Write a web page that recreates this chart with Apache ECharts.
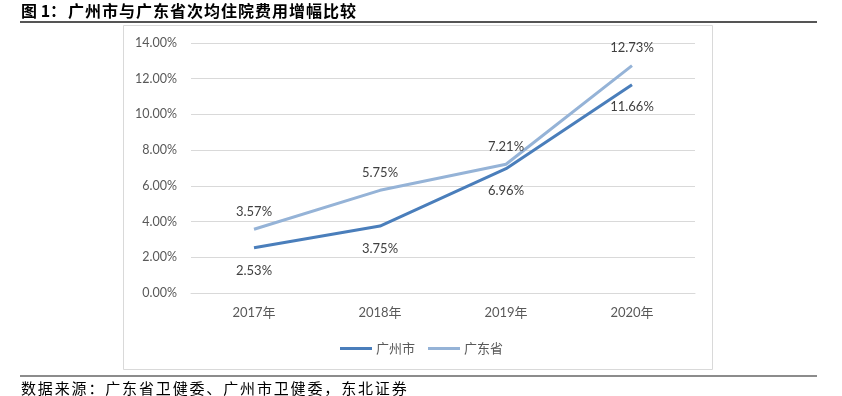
<!DOCTYPE html>
<html>
<head>
<meta charset="utf-8">
<script src="https://cdn.jsdelivr.net/npm/echarts@6/dist/echarts.min.js"></script>
<style>
html,body{margin:0;padding:0;background:#fff;}
#wrap{position:relative;width:842px;height:396px;}
#c{width:842px;height:396px;}
.t{position:absolute;white-space:nowrap;font-family:"Noto Sans CJK SC",sans-serif;color:#000;}
#title{left:21px;top:0px;font-size:16px;font-weight:bold;line-height:21px;letter-spacing:1px;}
#title .p{display:inline-block;width:47px;letter-spacing:0;}
#src{left:21px;top:378px;font-size:15px;line-height:20px;letter-spacing:1.85px;}
</style>
</head>
<body>
<div id="wrap">
<div id="c"></div>
<div class="t" id="title"></div>
<div class="t" id="src"></div>
</div>
<script>
var categories = ['2017年', '2018年', '2019年', '2020年'];
var guangzhou = [2.53, 3.75, 6.96, 11.66];
var guangdong = [3.57, 5.75, 7.21, 12.73];
var seriesNames = ['广州市', '广东省'];
var titlePrefix = '图 1：';
var titleText = '广州市与广东省次均住院费用增幅比较';
var sourceText = '数据来源：广东省卫健委、广州市卫健委，东北证券';

document.getElementById('title').innerHTML = '<span class="p"></span>';
document.querySelector('#title .p').textContent = titlePrefix;
document.getElementById('title').appendChild(document.createTextNode(titleText));
document.getElementById('src').textContent = sourceText;

var fontLatin = 'Lato, "Noto Sans CJK SC", sans-serif';
var fontCJK = '"Noto Sans CJK SC", sans-serif';

var chart = echarts.init(document.getElementById('c'), null, {renderer: 'canvas'});
chart.setOption({
  animation: false,
  backgroundColor: '#ffffff',
  graphic: [
    {type: 'rect', shape: {x: 123.5, y: 25.5, width: 589, height: 344}, style: {fill: 'none', stroke: '#d9d9d9', lineWidth: 1}, z: -1},
    {type: 'line', shape: {x1: 20, y1: 22, x2: 817, y2: 22}, style: {stroke: '#555555', lineWidth: 2}},
    {type: 'line', shape: {x1: 20, y1: 376, x2: 817, y2: 376}, style: {stroke: '#8c8c8c', lineWidth: 2}}
  ],
  grid: {left: 191, right: 147, top: 43, bottom: 103, containLabel: false},
  legend: {
    left: 335, top: 337,
    itemWidth: 32, itemHeight: 3, itemGap: 13,
    icon: 'rect',
    textStyle: {color: '#595959', fontSize: 13, fontFamily: fontCJK, padding: [0,0,0,-1]},
    data: seriesNames
  },
  xAxis: {
    type: 'category',
    data: categories,
    boundaryGap: true,
    axisLine: {show: true, lineStyle: {color: '#d9d9d9'}},
    axisTick: {show: false},
    axisLabel: {color: '#595959', fontSize: 13, fontFamily: fontLatin, margin: 13}
  },
  yAxis: {
    type: 'value',
    min: 0, max: 14, interval: 2,
    axisLine: {show: false},
    axisTick: {show: false},
    splitLine: {lineStyle: {color: '#d9d9d9'}},
    axisLabel: {color: '#595959', fontSize: 12.5, fontFamily: fontLatin, margin: 14,
      formatter: function (v) { return v.toFixed(2) + '%'; }}
  },
  series: [
    {
      name: seriesNames[0], type: 'line', data: guangzhou,
      symbol: 'circle', symbolSize: 0, showSymbol: true,
      lineStyle: {width: 3, color: '#4a7ebb'}, itemStyle: {color: '#4a7ebb'},
      label: {show: true, position: 'bottom', distance: 16, color: '#404040', fontSize: 13, fontFamily: fontLatin,
        formatter: function (p) { return p.value.toFixed(2) + '%'; }}
    },
    {
      name: seriesNames[1], type: 'line', data: guangdong,
      symbol: 'circle', symbolSize: 0, showSymbol: true,
      lineStyle: {width: 3, color: '#95b3d7'}, itemStyle: {color: '#95b3d7'},
      label: {show: true, position: 'top', distance: 11, color: '#404040', fontSize: 13, fontFamily: fontLatin,
        formatter: function (p) { return p.value.toFixed(2) + '%'; }}
    }
  ]
});
</script>
</body>
</html>
